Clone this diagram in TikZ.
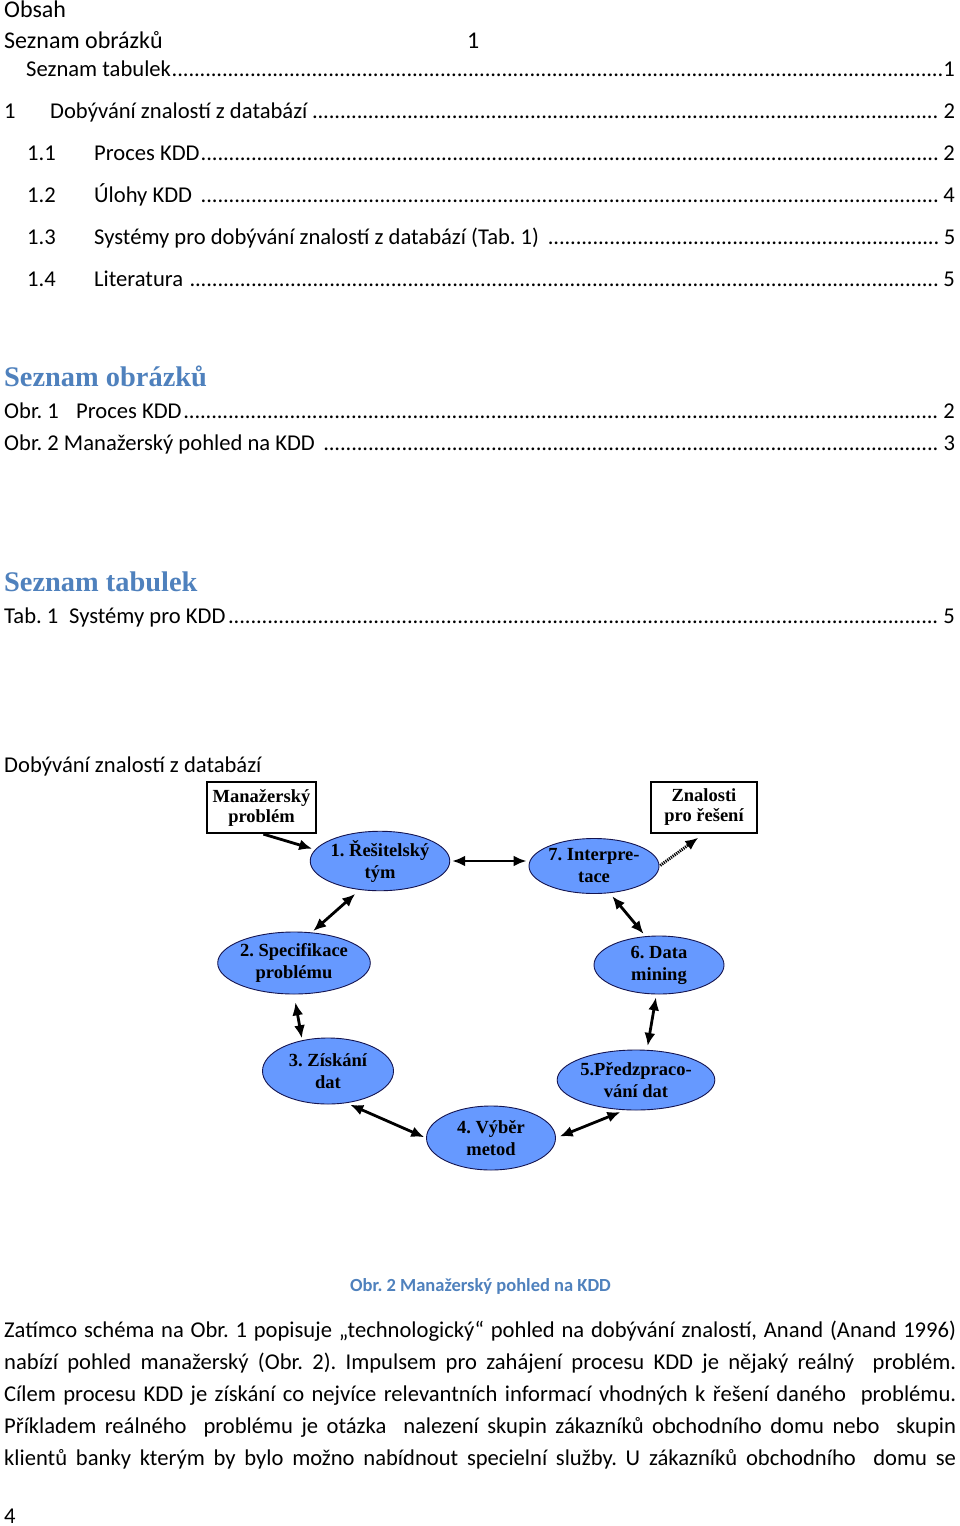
\documentclass[tikz,border=0pt]{standalone}
\usepackage{fontspec}
\setmainfont{Carlito}
\newfontfamily\tnr{Liberation Serif}
\usetikzlibrary{arrows.meta,shapes.geometric}
\definecolor{headblue}{RGB}{79,129,189}
\definecolor{ellfill}{RGB}{102,153,255}
\definecolor{ellline}{RGB}{20,20,80}
\newcommand\dotlead{\leaders\hbox to 5.6pt{\hss.\hss}\hfill}
\newcommand\bodysize{\fontsize{22.6pt}{27pt}\selectfont}
\newcommand\bigsize{\fontsize{24pt}{28pt}\selectfont}
\frenchspacing
\begin{document}
\frenchspacing
\begin{tikzpicture}[x=1pt,y=-1pt,
  >={Latex[length=13pt,width=11pt]},
  txt/.style={anchor=base west,inner sep=0pt,font=\bodysize},
  head/.style={anchor=base west,inner sep=0pt,text=headblue,font=\tnr\bfseries\fontsize{28.4pt}{32pt}\selectfont},
  ell/.style={ellipse,draw=ellline,line width=0.9pt,fill=ellfill,inner sep=0pt,align=center,
    font=\tnr\bfseries\fontsize{18.5pt}{22pt}\selectfont},
  boxnode/.style={rectangle,draw=black,line width=1.1pt,fill=white,inner sep=0pt,align=center,
    font=\tnr\bfseries\fontsize{18.5pt}{20pt}\selectfont},
  bi/.style={<->,line width=2.8pt,black},
  uni/.style={->,line width=2.8pt,black},
  hatch/.style={->,line width=3pt,black,dash pattern=on 1.2pt off 1pt}]
\useasboundingbox[fill=white] (0,0) rectangle (960,1526);

% --- table of contents
\node[txt,font=\bigsize] (obsah) at (4,17) {Obsah};
\node[txt,font=\bigsize] (sob) at (4,48) {Seznam obrázků};
\node[txt,font=\bigsize] (sobn) at (467,48) {1};
\node[txt] (stab) at (26,76) {\makebox[930pt][l]{Seznam tabulek\dotlead 1}};
\node[txt] (c1) at (4,118) {\makebox[952pt][l]{\makebox[46pt][l]{1}Dobývání znalostí z databází\dotlead 2}};
\node[txt] (c11) at (27,160) {\makebox[929pt][l]{\makebox[67pt][l]{1.1}Proces KDD\dotlead 2}};
\node[txt] (c12) at (27,202) {\makebox[929pt][l]{\makebox[67pt][l]{1.2}Úlohy KDD \dotlead 4}};
\node[txt] (c13) at (27,244) {\makebox[929pt][l]{\makebox[67pt][l]{1.3}Systémy pro dobývání znalostí z databází (Tab. 1) \dotlead 5}};
\node[txt] (c14) at (27,286) {\makebox[929pt][l]{\makebox[67pt][l]{1.4}Literatura \dotlead 5}};

% --- list of figures
\node[head] (h1) at (4,386) {Seznam obrázků};
\node[txt] (f1) at (4,418) {\makebox[952pt][l]{\makebox[72pt][l]{Obr. 1}Proces KDD\dotlead 2}};
\node[txt] (f2) at (4,450) {\makebox[952pt][l]{Obr. 2 Manažerský pohled na KDD \dotlead 3}};

% --- list of tables
\node[head] (h2) at (4,591) {Seznam tabulek};
\node[txt] (t1) at (4,623) {\makebox[952pt][l]{\makebox[65pt][l]{Tab. 1}Systémy pro KDD\dotlead 5}};

\node[txt] (sec) at (4,772) {Dobývání znalostí z databází};

% --- diagram
\node[boxnode,minimum width=109pt,minimum height=51pt] (mp) at (261.5,807.5) {Manažerský\\problém};
\node[boxnode,minimum width=106pt,minimum height=51pt] (zn) at (704,807.5) {Znalosti\\pro řešení};

\node[ell,minimum width=130pt,minimum height=54pt] (e1) at (380,861) {1. Řešitelský\\tým};
\node[ell,minimum width=130pt,minimum height=55pt] (e7) at (594,866) {7. Interpre-\\tace};
\node[ell,minimum width=134pt,minimum height=62pt] (e2) at (294,963) {2. Specifikace\\problému};
\node[ell,minimum width=130pt,minimum height=58pt] (e6) at (659,965) {6. Data\\mining};
\node[ell,minimum width=131pt,minimum height=66pt] (e3) at (328,1071) {3. Získání\\dat};
\node[ell,minimum width=138pt,minimum height=60pt] (e5) at (636,1080) {5.Předzpraco-\\vání dat};
\node[ell,minimum width=129pt,minimum height=64pt] (e4) at (491,1138) {4. Výběr\\metod};

\draw[uni,shorten <=2pt,shorten >=3pt] (mp.south) -- (e1.170);
\draw[bi,shorten <=2pt,shorten >=2pt] (e1.east) -- (e1.east -| e7.west);
\draw[hatch,shorten <=1pt,shorten >=7pt] (e7.east) -- (zn.south);
\draw[bi,shorten <=6pt,shorten >=2pt] (e1.235) -- (e2.60);
\draw[bi,shorten <=4pt,shorten >=3pt] (e7.300) -- (e6.115);
\draw[bi,shorten <=8pt,shorten >=2pt] (e2.south) -- (e3.130);
\draw[bi,shorten <=3pt,shorten >=4pt] (e6.265) -- (e5.70);
\draw[bi,shorten <=4pt,shorten >=2pt] (e3.300) -- (e4.west);
\draw[bi,shorten <=4pt,shorten >=5pt] (e4.east) -- (e5.250);

\node[anchor=base,inner sep=0pt,text=headblue,font=\bfseries\fontsize{18.5pt}{22pt}\selectfont] (cap) at (480.5,1291) {Obr. 2 Manažerský pohled na KDD};

% --- paragraph
\node[txt] (p1) at (4,1337) {\makebox[952pt][s]{Zatímco schéma na Obr. 1 popisuje „technologický“ pohled na dobývání znalostí, Anand (Anand 1996)}};
\node[txt] (p2) at (4,1369) {\makebox[952pt][s]{nabízí pohled manažerský (Obr. 2). Impulsem pro zahájení procesu KDD je nějaký reálný\ \ problém.}};
\node[txt] (p3) at (4,1401) {\makebox[952pt][s]{Cílem procesu KDD je získání co nejvíce relevantních informací vhodných k řešení daného\ \ problému.}};
\node[txt] (p4) at (4,1433) {\makebox[952pt][s]{Příkladem reálného\ \ problému je otázka\ \ nalezení skupin zákazníků obchodního domu nebo\ \ skupin}};
\node[txt] (p5) at (4,1465) {\makebox[952pt][s]{klientů banky kterým by bylo možno nabídnout specielní služby. U zákazníků obchodního\ \ domu se}};

\node[txt] (pg) at (4,1523) {4};
\end{tikzpicture}
\end{document}
